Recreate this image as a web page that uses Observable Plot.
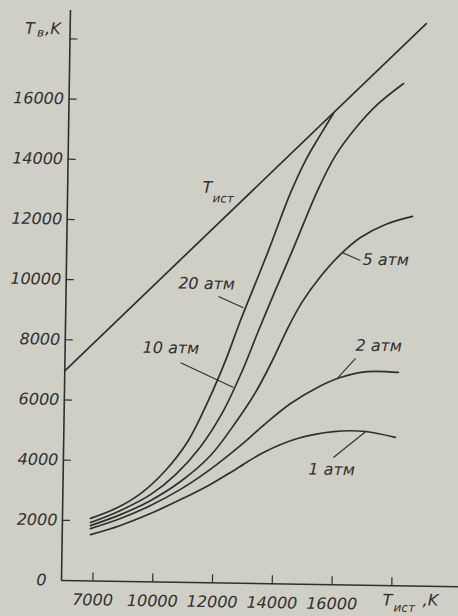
<!DOCTYPE html>
<html><head><meta charset="utf-8">
<script src="https://cdn.jsdelivr.net/npm/d3@7"></script>
<script src="https://cdn.jsdelivr.net/npm/@observablehq/plot@0.6"></script>
<style>
html,body{margin:0;padding:0;background:#cfcfc6;overflow:hidden}
#chart svg{display:block;transform:rotate(0.9deg);transform-origin:61px 580px}
</style></head><body><div id="chart"></div>
<script>
// T_ист (x) and T_в (y) values, K
const tIstLine = [7050, 18960];
const tVLine   = [6970, 18690];

const tIst20 = [7990, 8820, 9650, 10470, 11220, 11870, 12420, 12900, 13350, 13800, 14500, 14990, 15480, 15900];
const tV20   = [2080, 2420, 2930, 3710, 4720, 6060, 7390, 8730, 9900, 11070, 12980, 14080, 14950, 15660];

const tIst10 = [7990, 8990, 9980, 10810, 11630, 12350, 12990, 13510, 14050, 14600, 15410, 15990, 16640, 17370, 18230];
const tV10   = [1940, 2360, 2900, 3580, 4520, 5670, 7070, 8410, 9750, 11080, 13090, 14260, 15170, 15980, 16690];

const tIst5 = [7990, 8990, 9980, 10980, 11970, 12790, 13440, 13990, 14480, 14960, 15550, 16210, 16870, 17700, 18600];
const tV5   = [1840, 2220, 2700, 3350, 4230, 5340, 6350, 7420, 8490, 9390, 10230, 10980, 11550, 12000, 12280];

const tIst2 = [7990, 8990, 9990, 10980, 11970, 12970, 13790, 14620, 15510, 16270, 17170, 18210];
const tV2   = [1740, 2090, 2540, 3090, 3770, 4580, 5320, 6000, 6550, 6890, 7100, 7090];

const tIst1 = [8000, 8990, 9990, 10990, 11980, 12810, 13740, 14870, 16070, 17140, 18140];
const tV1   = [1540, 1860, 2270, 2750, 3270, 3780, 4360, 4840, 5090, 5110, 4930];

const seriesNames = ["20 атм", "10 атм", "5 атм", "2 атм", "1 атм"];
const seriesX = [tIst20, tIst10, tIst5, tIst2, tIst1];
const seriesY = [tV20, tV10, tV5, tV2, tV1];

// curve labels and their leader lines
const labelX = [10800, 9640, 16950, 16760, 15250];
const labelY = [9930, 7780, 10820, 7960, 3820];
const leaderX1 = [12150, 10920, 16270, 16770, 16080];
const leaderY1 = [9520, 7300, 11040, 7530, 4230];
const leaderX2 = [12990, 12700, 16880, 16170, 17140];
const leaderY2 = [9160, 6500, 10790, 6860, 5100];

// Tист label beside the diagonal
const tIstLabelX = [11560];
const tIstLabelY = [13130];
const tIstSubX = [11900];
const tIstSubY = [12770];

// ticks
const xTickValues = [8000, 10000, 12000, 14000, 16000, 18000];
const xTickLabels = ["7000", "10000", "12000", "14000", "16000", ""];
const yTickValues = [2000, 4000, 6000, 8000, 10000, 12000, 14000, 16000, 18000];
const yTickLabels = ["2000", "4000", "6000", "8000", "10000", "12000", "14000", "16000", ""];

const ink = "#2f2f2f";
const xLab = new Map(xTickValues.map((v, i) => [v, xTickLabels[i]]));
const yLab = new Map(yTickValues.map((v, i) => [v, yTickLabels[i]]));

const rows = [];
seriesNames.forEach((s, k) => seriesX[k].forEach((x, i) => rows.push({series: s, x, y: seriesY[k][i]})));
const diag = tIstLine.map((x, i) => ({x, y: tVLine[i]}));
const labels = seriesNames.map((s, i) => ({text: s, x: labelX[i], y: labelY[i]}));
const leaders = seriesNames.map((s, i) => ({x1: leaderX1[i], y1: leaderY1[i], x2: leaderX2[i], y2: leaderY2[i]}));

const font = {fontFamily: "DejaVu Sans", fontStyle: "italic"};

const chart = Plot.plot({
  width: 458, height: 616,
  marginLeft: 61, marginRight: 0, marginTop: 10, marginBottom: 36,
  style: {background: "transparent", fontFamily: "DejaVu Sans", fontStyle: "italic", fontSize: "16px", color: ink},
  x: {domain: [7050, 20330]},
  y: {domain: [0, 18940]},
  marks: [
    Plot.ruleX([7050], {stroke: ink, strokeWidth: 1.6}),
    Plot.ruleY([0], {stroke: ink, strokeWidth: 1.6}),
    Plot.axisY(yTickValues, {tickSize: -8, tickPadding: 13, tickFormat: d => yLab.get(d), stroke: ink, strokeWidth: 1.2, fill: ink, fontSize: 16}),
    Plot.axisY([0], {tickSize: 0, tickPadding: 15, tickFormat: d => "0", fill: ink, fontSize: 16}),
    Plot.axisX(xTickValues, {tickSize: -8, tickPadding: 21, dx: 3, tickFormat: d => xLab.get(d), stroke: ink, strokeWidth: 1.2, fill: ink, fontSize: 16}),
    Plot.line(diag, {x: "x", y: "y", stroke: ink, strokeWidth: 1.7}),
    Plot.line(rows, {x: "x", y: "y", z: "series", curve: "catmull-rom", stroke: ink, strokeWidth: 1.7}),
    Plot.link(leaders, {x1: "x1", y1: "y1", x2: "x2", y2: "y2", stroke: ink, strokeWidth: 1.1}),
    Plot.text(labels, {x: "x", y: "y", text: "text", textAnchor: "start", fill: ink, fontSize: 16, ...font}),
    Plot.text(tIstLabelX, {x: d => d, y: (d, i) => tIstLabelY[i], text: () => "T", textAnchor: "start", fill: ink, fontSize: 16, ...font}),
    Plot.text(tIstSubX, {x: d => d, y: (d, i) => tIstSubY[i], text: () => "ист", textAnchor: "start", fill: ink, fontSize: 12, ...font}),
    // axis titles
    Plot.text(["T"], {frameAnchor: "top-left", dx: -45, dy: 12.6, textAnchor: "start", fill: ink, fontSize: 16, ...font}),
    Plot.text(["в"], {frameAnchor: "top-left", dx: -33, dy: 18, textAnchor: "start", fill: ink, fontSize: 12, ...font}),
    Plot.text([",K"], {frameAnchor: "top-left", dx: -25, dy: 12.3, textAnchor: "start", fill: ink, fontSize: 16, ...font}),
    Plot.text(["T"], {frameAnchor: "bottom-right", dx: -75.6, dy: 20, textAnchor: "start", fill: ink, fontSize: 16, ...font}),
    Plot.text(["ист"], {frameAnchor: "bottom-right", dx: -64.5, dy: 25.8, textAnchor: "start", fill: ink, fontSize: 12, ...font}),
    Plot.text([",K"], {frameAnchor: "bottom-right", dx: -35.6, dy: 19.3, textAnchor: "start", fill: ink, fontSize: 16, ...font})
  ]
});
document.getElementById("chart").append(chart);
</script></body></html>
